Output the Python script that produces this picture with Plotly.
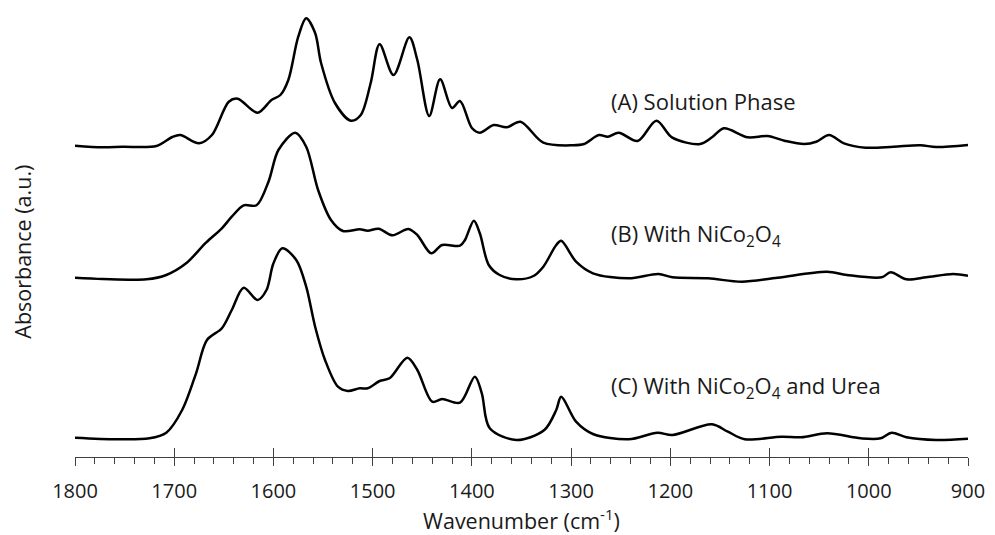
import plotly.graph_objects as go

# Wavenumbers (cm-1) and absorbance (a.u., relative to each trace's own baseline)
wn_a = [1800, 1772, 1752, 1718, 1702, 1694, 1675, 1662, 1645, 1636, 1616, 1602, 1593, 1585,
        1575, 1567, 1558, 1552, 1538, 1522, 1512, 1502, 1493, 1479, 1463, 1455, 1443, 1432,
        1420, 1412, 1400, 1392, 1378, 1365, 1351, 1328, 1298, 1287, 1272, 1263, 1252, 1233,
        1214, 1198, 1170, 1158, 1146, 1122, 1102, 1085, 1065, 1053, 1040, 1025, 1003, 975,
        948, 932, 900]
abs_a = [0.003, -0.013, -0.007, 0.0, 0.09, 0.11, 0.027, 0.11, 0.443, 0.473, 0.333, 0.46, 0.51, 0.66,
         1.093, 1.277, 1.13, 0.83, 0.43, 0.253, 0.31, 0.63, 1.017, 0.71, 1.087, 0.86, 0.30, 0.667,
         0.38, 0.45, 0.18, 0.133, 0.21, 0.187, 0.243, 0.033, 0.007, 0.02, 0.11, 0.093, 0.133, 0.05,
         0.253, 0.083, 0.02, 0.087, 0.177, 0.087, 0.10, 0.053, 0.02, 0.043, 0.11, 0.027, -0.017, -0.007,
         0.007, -0.01, 0.01]

wn_b = [1800, 1772, 1728, 1708, 1688, 1668, 1652, 1642, 1630, 1617, 1605, 1595, 1578, 1567,
        1555, 1542, 1530, 1513, 1505, 1494, 1480, 1464, 1455, 1441, 1430, 1412, 1407, 1398,
        1392, 1383, 1372, 1355, 1338, 1328, 1315, 1310, 1295, 1278, 1242, 1212, 1198, 1162,
        1128, 1092, 1042, 1022, 987, 978, 962, 942, 915, 900]
abs_b = [0.003, -0.01, -0.013, 0.03, 0.147, 0.353, 0.497, 0.613, 0.727, 0.727, 0.963, 1.28, 1.453, 1.313,
         0.88, 0.58, 0.47, 0.487, 0.473, 0.493, 0.427, 0.49, 0.43, 0.247, 0.33, 0.323, 0.38, 0.573,
         0.447, 0.13, 0.03, -0.013, 0.02, 0.113, 0.33, 0.373, 0.163, 0.047, -0.003, 0.04, 0.007, -0.003,
         -0.037, 0.003, 0.063, 0.03, 0.007, 0.057, -0.013, 0.007, 0.04, 0.023]

wn_c = [1800, 1758, 1725, 1708, 1692, 1678, 1667, 1652, 1642, 1630, 1616, 1607, 1600, 1591,
        1577, 1567, 1558, 1548, 1535, 1525, 1513, 1505, 1493, 1483, 1465, 1455, 1440, 1430,
        1412, 1397, 1390, 1382, 1355, 1327, 1315, 1310, 1295, 1278, 1242, 1213, 1198, 1158,
        1142, 1125, 1088, 1068, 1042, 1008, 988, 977, 962, 932, 900]
abs_c = [0.003, -0.013, -0.003, 0.053, 0.28, 0.647, 0.98, 1.097, 1.28, 1.503, 1.38, 1.48, 1.747, 1.897,
         1.78, 1.513, 1.113, 0.78, 0.513, 0.47, 0.497, 0.497, 0.57, 0.597, 0.803, 0.68, 0.363, 0.39,
         0.353, 0.613, 0.447, 0.097, -0.02, 0.08, 0.28, 0.413, 0.163, 0.04, -0.013, 0.053, 0.03, 0.137,
         0.063, -0.013, 0.013, 0.007, 0.047, -0.003, -0.003, 0.053, 0.007, -0.02, -0.007]

labels = ["(A) Solution Phase", "(B) With NiCo<sub>2</sub>O<sub>4</sub>",
          "(C) With NiCo<sub>2</sub>O<sub>4</sub> and Urea"]
offsets = [3.11, 1.79, 0.19]
label_y = [3.56, 2.22, 0.70]
label_x = 1262

x_ticks = [1800, 1700, 1600, 1500, 1400, 1300, 1200, 1100, 1000, 900]

FONT = "Open Sans"
AXC = "#404040"
TXT = "#1a1a1a"

fig = go.Figure()
for wn, ab, off in zip([wn_a, wn_b, wn_c], [abs_a, abs_b, abs_c], offsets):
    fig.add_trace(go.Scatter(
        x=wn, y=[v + off for v in ab], mode="lines",
        line=dict(color="black", width=2.5, shape="spline", smoothing=0.9),
        showlegend=False, hoverinfo="skip"))

# invisible trace to activate the overlay axis (major ticks crossing the axis line)
fig.add_trace(go.Scatter(x=[x_ticks[0], x_ticks[-1]], y=[0, 0], xaxis="x2", mode="lines",
                         line=dict(width=0), showlegend=False, hoverinfo="skip"))

for txt, ly in zip(labels, label_y):
    fig.add_annotation(x=label_x, y=ly, text=txt, showarrow=False, xanchor="left",
                       yanchor="middle", font=dict(family=FONT, size=22, color=TXT))

# y-axis title (placed as in the reference, slightly below the plot centre)
fig.add_annotation(xref="paper", yref="paper", x=-0.059, y=0.46, text="Absorbance (a.u.)",
                   textangle=-90, showarrow=False, xanchor="center", yanchor="middle",
                   font=dict(family=FONT, size=21.5, color=TXT))

fig.update_layout(
    width=995, height=535,
    margin=dict(l=75, r=20, t=10, b=78),
    plot_bgcolor="white", paper_bgcolor="white",
    xaxis=dict(range=[1800, 900], tickvals=x_ticks, ticktext=[str(t) for t in x_ticks],
               ticks="outside", ticklen=8, tickwidth=1, tickcolor=AXC,
               minor=dict(dtick=20, tick0=0, ticks="outside", ticklen=6, tickwidth=1, tickcolor=AXC),
               showline=True, linecolor=AXC, linewidth=1, showgrid=False, zeroline=False,
               ticklabelstandoff=8,
               tickfont=dict(family=FONT, size=20, color=TXT),
               title=dict(text="Wavenumber (cm<sup>-1</sup>)", standoff=6,
                          font=dict(family=FONT, size=21.5, color=TXT))),
    xaxis2=dict(range=[1800, 900], overlaying="x", anchor="y", side="bottom",
                tickvals=x_ticks, showticklabels=False, ticks="inside", ticklen=9,
                tickwidth=1, tickcolor=AXC, showline=False, showgrid=False, zeroline=False),
    yaxis=dict(range=[0, 4.47], showline=False, showticklabels=False, ticks="",
               showgrid=False, zeroline=False),
)

fig.write_html("out.html")
